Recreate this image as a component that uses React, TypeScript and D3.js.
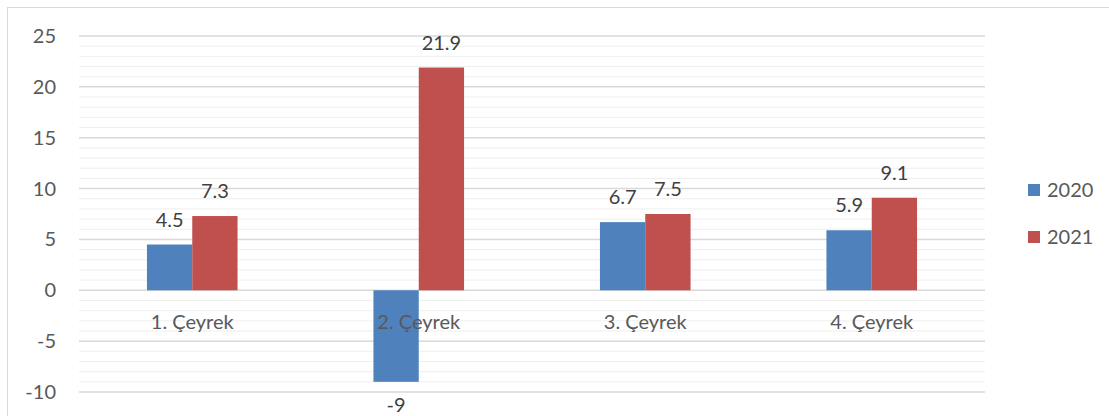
import React, { useRef, useEffect } from "react";
import * as d3 from "d3";

const categories = ["1. Çeyrek", "2. Çeyrek", "3. Çeyrek", "4. Çeyrek"];
const seriesNames = ["2020", "2021"];
const values2020 = [4.5, -9, 6.7, 5.9];
const values2021 = [7.3, 21.9, 7.5, 9.1];
const yTicks = [-10, -5, 0, 5, 10, 15, 20, 25];
const colors = ["#4f81bd", "#c0504d"];

export default function App() {
	const ref = useRef<SVGSVGElement>(null);

	const layout = { width: 1109, height: 416, left: 79, right: 985, top: 36, bottom: 392 };

	useEffect(() => {
		const svg = d3.select(ref.current);
		svg.selectAll("*").remove();

		const font = "Lato, 'Open Sans', sans-serif";
		const fontSize = 20;

		// outer chart frame
		svg.append("rect")
			.attr("x", 7.5).attr("y", 7.5)
			.attr("width", 1120).attr("height", 430)
			.attr("fill", "white")
			.attr("stroke", "#d9d9d9");

		const y = d3.scaleLinear().domain([-10, 25]).range([layout.bottom, layout.top]);
		const x0 = d3.scaleBand().domain(categories).range([layout.left, layout.right]).paddingInner(0.6).paddingOuter(0.3);
		const x1 = d3.scaleBand().domain(seriesNames).range([0, x0.bandwidth()]);

		// minor grid every 1
		const minor = d3.range(-10, 26).filter(v => v % 5 !== 0);
		svg.append("g").selectAll("line")
			.data(minor)
			.join("line")
			.attr("x1", layout.left).attr("x2", layout.right)
			.attr("y1", d => y(d)).attr("y2", d => y(d))
			.attr("stroke", "#efefef")
			.attr("stroke-width", 1);

		svg.append("g").selectAll("line")
			.data(yTicks)
			.join("line")
			.attr("x1", layout.left).attr("x2", layout.right)
			.attr("y1", d => y(d)).attr("y2", d => y(d))
			.attr("stroke", "#d9d9d9")
			.attr("stroke-width", 1.5);

		svg.append("g").selectAll("text")
			.data(yTicks)
			.join("text")
			.attr("x", 56)
			.attr("y", d => y(d))
			.attr("dy", "0.35em")
			.attr("text-anchor", "end")
			.attr("font-family", font)
			.attr("font-size", fontSize)
			.attr("fill", "#595959")
			.text(d => d);

		const allSeries = [values2020, values2021];

		allSeries.forEach((vals, si) => {
			const g = svg.append("g");
			g.selectAll("rect")
				.data(vals)
				.join("rect")
				.attr("x", (d, i) => (x0(categories[i]) as number) + (x1(seriesNames[si]) as number))
				.attr("y", d => y(Math.max(0, d)))
				.attr("width", x1.bandwidth())
				.attr("height", d => Math.abs(y(d) - y(0)))
				.attr("fill", colors[si]);

			g.selectAll("text")
				.data(vals)
				.join("text")
				.attr("x", (d, i) => (x0(categories[i]) as number) + (x1(seriesNames[si]) as number) + x1.bandwidth() / 2)
				.attr("y", d => d >= 0 ? y(d) - 18 : y(d) + 30)
				.attr("text-anchor", "middle")
				.attr("font-family", font)
				.attr("font-size", fontSize)
				.attr("fill", "#404040")
				.text(d => d);
		});

		svg.append("g").selectAll("text")
			.data(categories)
			.join("text")
			.attr("x", d => (x0(d) as number) + x0.bandwidth() / 2)
			.attr("y", y(0) + 39)
			.attr("text-anchor", "middle")
			.attr("font-family", font)
			.attr("font-size", fontSize)
			.attr("fill", "#595959")
			.text(d => d);

		const legend = svg.append("g")
			.selectAll("g")
			.data(seriesNames)
			.join("g")
			.attr("transform", (d, i) => `translate(1028, ${190 + i * 47})`);

		legend.append("rect")
			.attr("x", 0).attr("y", -6)
			.attr("width", 12).attr("height", 12)
			.attr("fill", (d, i) => colors[i]);

		legend.append("text")
			.attr("x", 19)
			.attr("dy", "0.35em")
			.attr("font-family", font)
			.attr("font-size", fontSize)
			.attr("fill", "#595959")
			.text(d => d);
	}, []);

	return (
		<svg ref={ref} width={layout.width} height={layout.height}
			style={{ position: "absolute", left: 0, top: 0, display: "block" }} />
	);
}
